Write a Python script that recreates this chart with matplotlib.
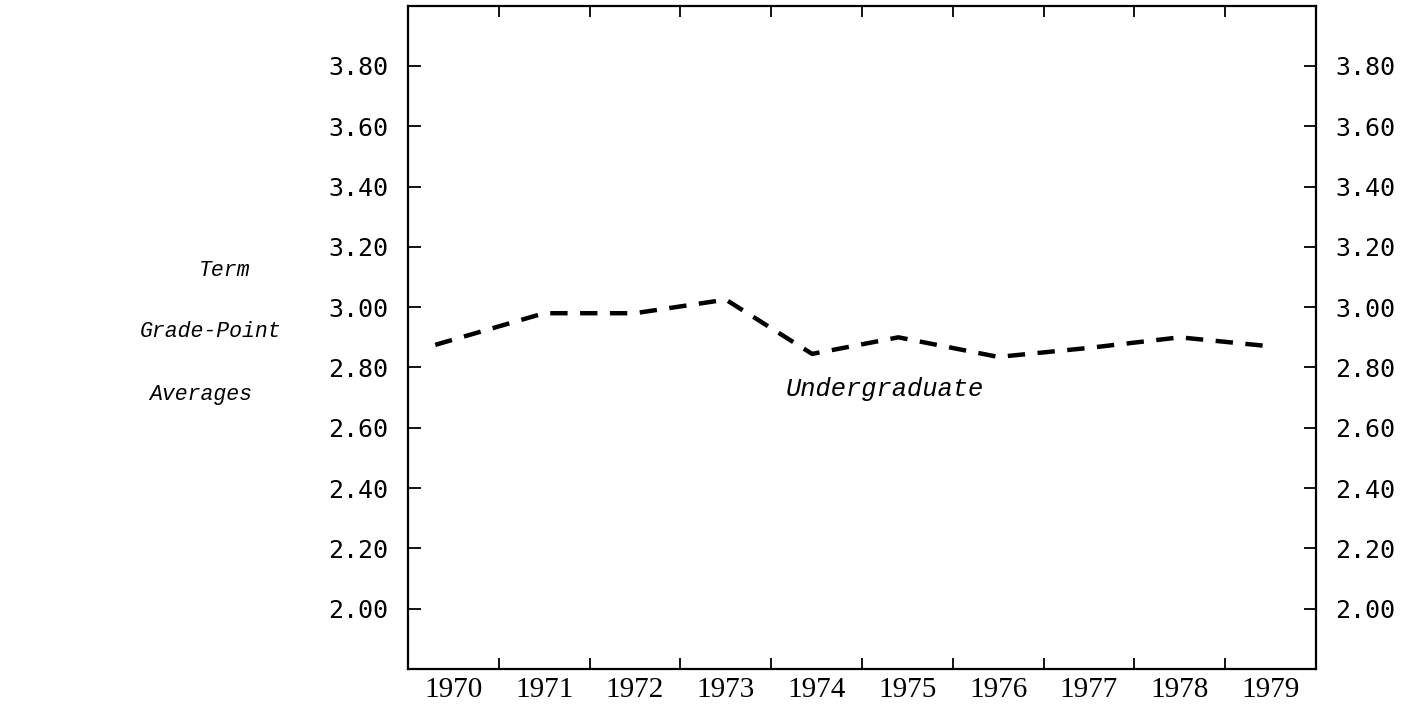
import matplotlib
matplotlib.use("Agg")
import matplotlib.pyplot as plt
import matplotlib.transforms as mtransforms
import numpy as np

# data
years = [1969.8, 1971.0, 1972.0, 1973.0, 1973.95, 1974.9, 1976.0, 1977.0, 1978.0, 1979.0]
gpa = [2.875, 2.98, 2.98, 3.025, 2.845, 2.90, 2.835, 2.865, 2.90, 2.87]
year_labels = [str(y) for y in range(1970, 1980)]
y_ticks = [2.00, 2.20, 2.40, 2.60, 2.80, 3.00, 3.20, 3.40, 3.60, 3.80]
ylabel_lines = ["Term", "Grade-Point", "Averages"]
ylabel_pos = [3.12, 2.92, 2.71]
ylabel_px = [225, 211, 201]  # centre of each caption line, px from the left

plt.rcParams["lines.scale_dashes"] = False

fig = plt.figure(figsize=(14.08, 7.04), dpi=100)
ax = fig.add_axes([0.2898, 0.0497, 0.6449, 0.9423])

ax.plot(years, gpa, color="black", lw=3.2, linestyle=(0, (12.5, 9)), solid_capstyle="butt")

ax.set_xlim(1969.5, 1979.5)
ax.set_ylim(1.80, 4.00)

# year boundaries get the tick marks, centres get the labels
ax.set_xticks(np.arange(1970.5, 1979.5, 1.0))
ax.set_xticklabels([])
ax.set_xticks(np.arange(1970, 1980), minor=True)
ax.set_xticklabels(year_labels, minor=True, family="Liberation Serif", fontsize=21)
ax.tick_params(axis="x", which="major", direction="in", length=8, width=1.3,
               top=True, bottom=True)
ax.tick_params(axis="x", which="minor", length=0, pad=6)

ax.set_yticks(y_ticks)
ax.set_yticklabels([f"{v:.2f}" for v in y_ticks], family="DejaVu Sans Mono", fontsize=18)
ax.tick_params(axis="y", direction="in", length=9, width=1.3, left=True, right=True,
               labelleft=True, labelright=True, pad=14)

for s in ax.spines.values():
    s.set_linewidth(1.6)

ax.text(1973.66, 2.73, "Undergraduate", family="Liberation Mono", style="italic",
        fontsize=18.3, ha="left", va="center")

# y-axis caption
trans = mtransforms.blended_transform_factory(ax.transAxes, ax.transData)
for txt, yv, px in zip(ylabel_lines, ylabel_pos, ylabel_px):
    ax.text((px - 408) / (1316 - 408), yv, txt, transform=trans, family="Liberation Mono",
            style="italic", fontsize=15.5, ha="center", va="center")

fig.savefig("out.png", dpi=100)
